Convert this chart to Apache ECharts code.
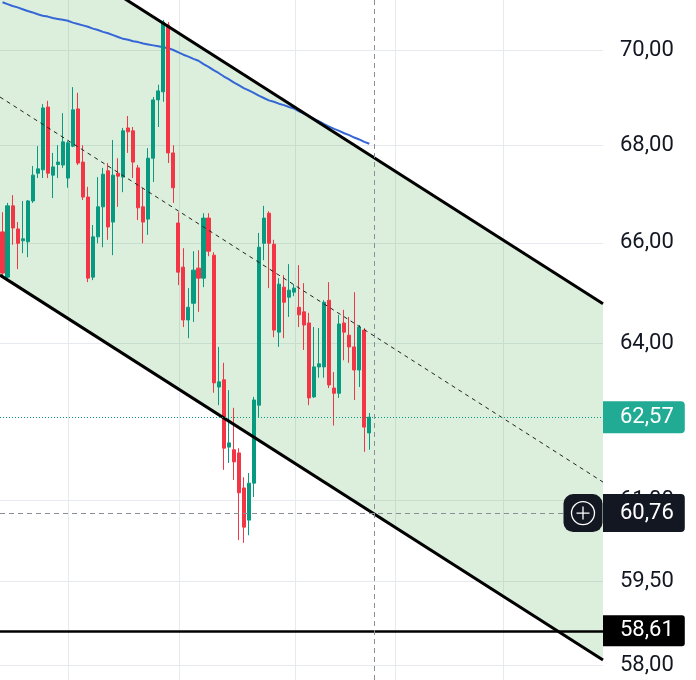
<!DOCTYPE html>
<html><head><meta charset="utf-8">
<script src="https://cdn.jsdelivr.net/npm/echarts@6/dist/echarts.min.js"></script>
<style>html,body{margin:0;padding:0;background:#fff}#c{width:696px;height:680px}</style>
</head><body><div id="c"></div>
<script>
// candles: [open, close, low, high]
const candles = [
[66.22,65.39,65.33,66.62],[65.31,66.75,65.29,66.81],[66.75,66.30,65.96,66.97],[66.28,65.99,65.47,66.42],
[66.04,66.08,65.79,66.85],[66.02,66.85,65.71,66.87],[66.85,67.38,66.81,67.57],[67.42,67.51,67.32,67.98],
[67.49,68.78,67.32,68.86],[68.80,67.42,67.32,68.93],[67.38,67.55,66.91,67.84],[67.60,67.65,67.32,68.00],
[67.59,68.07,67.53,68.67],[67.32,68.05,67.12,68.09],[67.98,68.74,67.96,69.22],[68.76,67.63,67.59,69.10],
[67.65,66.93,66.87,68.00],[66.93,65.29,65.21,67.14],[65.31,66.12,65.25,66.36],[66.12,66.73,65.99,67.34],
[66.73,67.40,65.91,67.53],[67.47,66.32,66.06,67.63],[66.42,67.38,65.75,68.11],[67.42,67.36,66.73,67.73],
[67.34,68.30,67.03,68.36],[68.36,68.28,67.84,68.61],[68.30,67.65,67.32,68.38],[67.53,66.71,66.46,67.59],
[66.73,66.42,65.99,67.12],[66.48,67.73,66.16,67.94],[67.73,68.95,67.24,69.01],[68.95,69.14,68.38,69.27],
[69.12,70.61,68.91,70.66],[70.55,67.84,67.63,70.61],[67.84,67.12,66.81,68.00],[66.40,65.41,65.15,66.62],
[65.51,64.46,64.32,65.89],[64.46,64.71,64.10,65.09],[64.79,65.45,64.42,65.83],[65.49,65.29,64.62,65.85],
[65.29,66.50,65.11,66.60],[66.50,65.83,65.73,66.60],[65.75,63.23,63.04,65.81],[63.15,63.25,62.80,63.93],
[63.29,61.98,61.57,63.62],[62.00,62.08,61.70,63.09],[61.95,61.72,61.38,62.75],[61.89,61.14,60.26,61.98],
[61.23,60.50,60.21,61.43],[60.63,61.32,60.35,61.51],[61.32,62.90,61.06,62.96],[62.80,65.91,62.57,66.20],
[65.99,66.50,65.65,66.75],[66.60,65.99,65.09,66.64],[65.97,64.26,64.12,66.06],[64.22,65.17,63.93,65.29],
[65.11,64.81,64.10,65.35],[64.91,65.05,64.52,65.57],[65.01,65.09,64.93,65.17],[64.71,64.56,64.32,65.55],
[64.62,64.36,63.87,65.19],[64.40,62.94,62.80,64.60],[62.96,63.54,62.94,64.32],[63.54,63.60,63.33,64.30],
[63.54,64.81,63.33,64.85],[64.85,63.19,63.13,65.21],[63.13,63.03,62.41,63.44],[63.03,64.38,62.94,64.56],
[64.40,64.22,63.67,64.66],[64.16,63.93,63.62,64.52],[63.93,63.48,62.90,65.01],[63.48,64.32,63.15,64.36],
[64.26,62.38,61.91,64.30],[62.27,62.57,61.95,62.65]
];
// moving average (blue line), one value per candle
const ma = [
71.04,71.00,70.96,70.93,70.89,70.85,70.82,70.78,70.75,70.73,
70.70,70.68,70.66,70.64,70.60,70.57,70.54,70.51,70.47,70.44,
70.40,70.37,70.33,70.29,70.25,70.23,70.20,70.18,70.15,70.13,
70.11,70.09,70.07,70.05,70.01,69.96,69.91,69.87,69.82,69.78,
69.71,69.65,69.58,69.52,69.45,69.39,69.32,69.26,69.20,69.15,
69.10,69.04,68.99,68.94,68.91,68.87,68.84,68.80,68.77,68.71,
68.66,68.61,68.55,68.50,68.44,68.39,68.34,68.30,68.25,68.21,
68.16,68.12,68.07,68.03
];
const slotCount = 120;
const slots = Array.from({length: slotCount}, (_, i) => String(i));
// channel anchors [x position in slots, price]
const upperLine = [[0, 72.87], [120, 64.78]];
const midLine   = [[0, 69.01], [120, 61.34]];
const lowerLine = [[0, 65.35], [120, 58.09]];
// price scale
const priceTicks = [70, 68, 66, 64, 61, 59.5, 58];
const tickLabels = ['70,00', '68,00', '66,00', '64,00', '61,00', '59,50', '58,00'];
const timeGrid = [13.63, 35.62, 58.71, 78.61, 100.2];
const lastPrice = 62.57, lastLabel = '62,57';
const crossPrice = 60.76, crossLabel = '60,76';
const levelPrice = 58.61, levelLabel = '58,61';
const crossX = 74.53;

const FONT = 'Roboto, sans-serif';
const chart = echarts.init(document.getElementById('c'), null, {renderer: 'canvas'});
const option = {
  animation: false,
  backgroundColor: '#ffffff',
  grid: {left: 0, right: 93, top: 0, bottom: 0},
  xAxis: [
    {type: 'category', data: slots, boundaryGap: true, show: false},
    {type: 'value', min: 0, max: slotCount, show: false}
  ],
  yAxis: [{type: 'log', logBase: 10, min: 57.735, max: 71.09, show: false, splitLine: {show: false}}],
  series: [
    { // grid lines and price labels
      type: 'line', xAxisIndex: 1, data: [], silent: true, clip: false,
      markLine: {
        silent: true, symbol: ['none', 'none'], z: 0, animation: false,
        lineStyle: {color: '#e6e9ee', width: 1, type: 'solid'},
        label: {show: true, position: 'end', distance: 17, color: '#131722', fontSize: 22, fontFamily: FONT},
        data: priceTicks.map((v, i) => ({yAxis: v, label: {formatter: tickLabels[i]}}))
          .concat(timeGrid.map(v => ({xAxis: v, label: {show: false}})))
      }
    },
    { // channel fill
      type: 'custom', xAxisIndex: 1, yAxisIndex: 0, z: 1, silent: true, clip: true,
      data: [[0, 65]],
      renderItem: function (params, api) {
        const pts = [api.coord(upperLine[0]), api.coord(upperLine[1]), api.coord(lowerLine[1]), api.coord(lowerLine[0])];
        return {type: 'polygon', shape: {points: pts}, style: {fill: 'rgba(76,175,80,0.2)'}};
      }
    },
    { // moving average
      type: 'line', xAxisIndex: 0, data: ma, symbol: 'none', z: 2, silent: true,
      lineStyle: {color: '#3566d6', width: 2}
    },
    {
      type: 'candlestick', xAxisIndex: 0, data: candles, barWidth: 3.6, z: 3, silent: true,
      itemStyle: {color: '#089981', color0: '#F23645', borderColor: '#089981', borderColor0: '#F23645', borderWidth: 1}
    },
    {type: 'line', xAxisIndex: 1, data: upperLine, symbol: 'none', z: 4, silent: true, lineStyle: {color: '#000', width: 3}},
    {type: 'line', xAxisIndex: 1, data: lowerLine, symbol: 'none', z: 4, silent: true, lineStyle: {color: '#000', width: 3}},
    {type: 'line', xAxisIndex: 1, data: midLine, symbol: 'none', z: 4, silent: true, lineStyle: {color: '#222', width: 1, type: [4, 4]}},
    { // price lines, crosshair and labels
      type: 'line', xAxisIndex: 1, data: [], silent: true, clip: false,
      markLine: {
        silent: true, symbol: ['none', 'none'], z: 6, animation: false,
        label: {show: true, position: 'end', distance: 0, color: '#fff', fontSize: 22, fontFamily: FONT, lineHeight: 22},
        data: [
          {yAxis: levelPrice, lineStyle: {color: '#000', width: 2.5, type: 'solid'},
           label: {formatter: levelLabel, backgroundColor: '#000', padding: [5, 11, 4, 17], borderRadius: [0, 3, 3, 0]}},
          {yAxis: lastPrice, lineStyle: {color: '#089981', width: 1, type: [1, 2]},
           label: {formatter: lastLabel, backgroundColor: '#22ab94', padding: [5, 11, 5, 17], borderRadius: [0, 4, 4, 0]}},
          {yAxis: crossPrice, lineStyle: {color: '#8a8e97', width: 1, type: [5, 4]},
           label: {formatter: crossLabel, backgroundColor: '#131722', padding: [8, 11, 8, 17], borderRadius: [0, 4, 4, 0]}},
          {xAxis: crossX, lineStyle: {color: '#8a8e97', width: 1, type: [5, 4]}, label: {show: false}}
        ]
      },
      markPoint: {
        silent: true, z: 7, animation: false, label: {show: false},
        data: [
          {coord: [119.6, crossPrice], symbol: 'roundRect', symbolSize: [39, 38], symbolOffset: [-18, 0], itemStyle: {color: '#131722'}},
          {coord: [119.6, crossPrice], symbol: 'circle', symbolSize: 23, symbolOffset: [-18, 0],
           itemStyle: {color: 'rgba(0,0,0,0)', borderColor: '#ffffff', borderWidth: 1.3}},
          {coord: [119.6, crossPrice], symbol: 'path://M4.5,0H5.5V4.5H10V5.5H5.5V10H4.5V5.5H0V4.5H4.5Z', symbolSize: 13, symbolOffset: [-18, 0],
           itemStyle: {color: '#ffffff'}}
        ]
      }
    }
  ]
};
chart.setOption(option);
</script>
</body></html>
